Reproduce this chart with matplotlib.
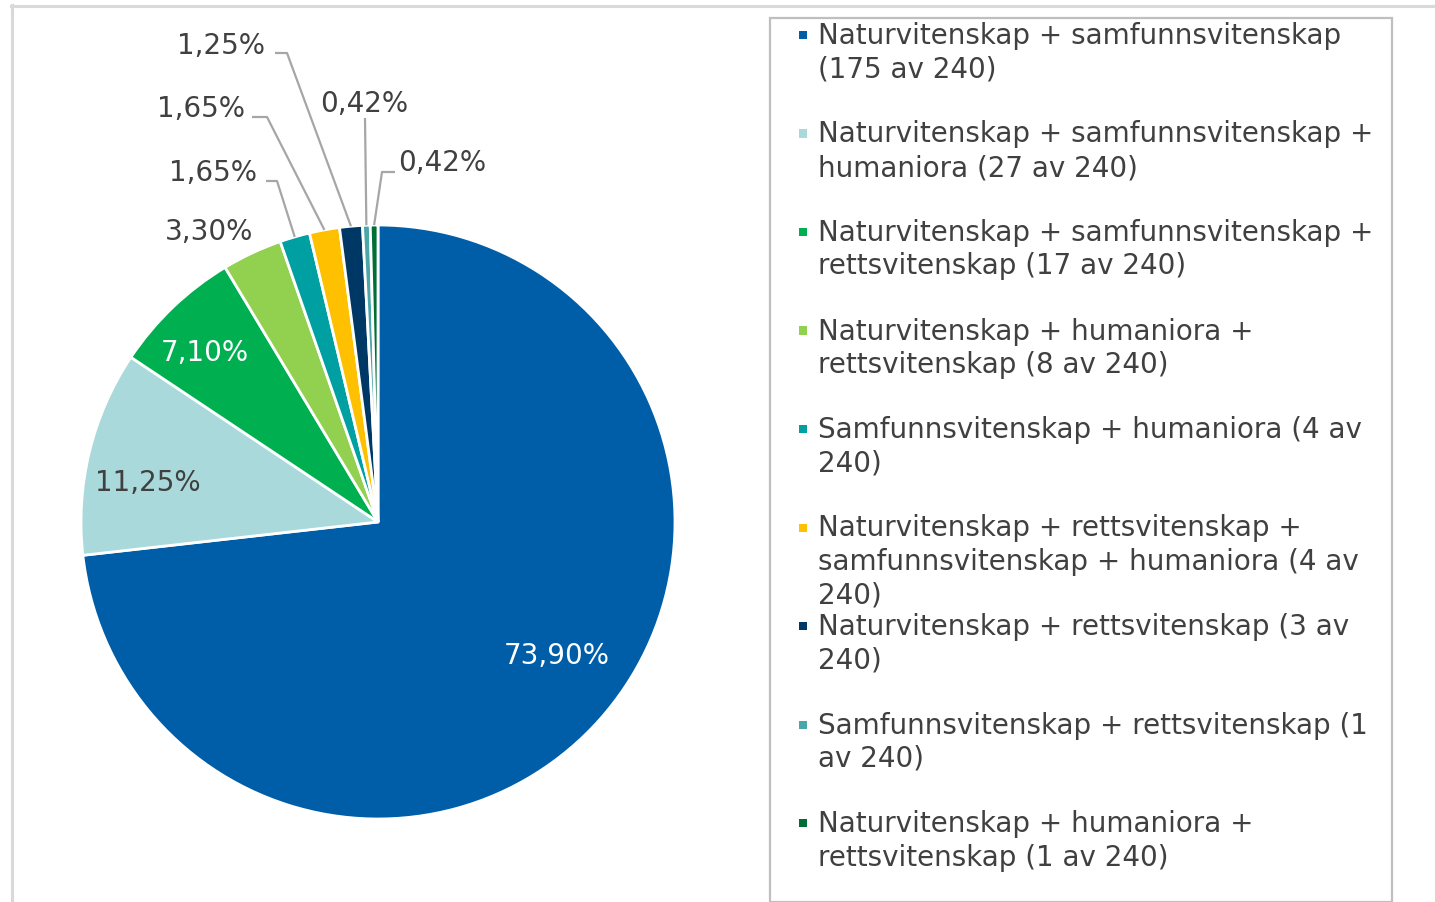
import matplotlib
matplotlib.use("Agg")
import matplotlib.pyplot as plt
from matplotlib.patches import Rectangle
from matplotlib.lines import Line2D
import numpy as np

plt.rcParams['font.family'] = ['DejaVu Sans']

# ---------------- data ----------------
categories = [
    "Naturvitenskap + samfunnsvitenskap\n(175 av 240)",
    "Naturvitenskap + samfunnsvitenskap +\nhumaniora (27 av 240)",
    "Naturvitenskap + samfunnsvitenskap +\nrettsvitenskap (17 av 240)",
    "Naturvitenskap + humaniora +\nrettsvitenskap (8 av 240)",
    "Samfunnsvitenskap + humaniora (4 av\n240)",
    "Naturvitenskap + rettsvitenskap +\nsamfunnsvitenskap + humaniora (4 av\n240)",
    "Naturvitenskap + rettsvitenskap (3 av\n240)",
    "Samfunnsvitenskap + rettsvitenskap (1\nav 240)",
    "Naturvitenskap + humaniora +\nrettsvitenskap (1 av 240)",
]
values = [73.90, 11.25, 7.10, 3.30, 1.65, 1.65, 1.25, 0.42, 0.42]
value_labels = ["73,90%", "11,25%", "7,10%", "3,30%", "1,65%", "1,65%", "1,25%", "0,42%", "0,42%"]

# ---------------- styles ----------------
colors = ['#005EA8', '#A9D9DB', '#00B050', '#92D050', '#00A0A2',
          '#FFC000', '#003865', '#4BA6A8', '#006F35']
text_dark = '#404040'
lead_col = '#A6A6A6'

W, H = 1435, 902
fig = plt.figure(figsize=(W / 100, H / 100), dpi=100)

# pie axes: centre (378,522) px, radius 297 px
cx, cy, R = 378, 522, 297
ax_l, ax_r, ax_t, ax_b = 12, 760, 5, 902
ax = fig.add_axes([ax_l / W, 1 - ax_b / H, (ax_r - ax_l) / W, (ax_b - ax_t) / H])

wedges, _ = ax.pie(values, colors=colors, startangle=90, counterclock=False,
                   radius=1.0, center=(0, 0),
                   wedgeprops=dict(edgecolor='white', linewidth=2.0))
ax.set_xlim((ax_l - cx) / R, (ax_r - cx) / R)
ax.set_ylim((cy - ax_b) / R, (cy - ax_t) / R)
ax.set_aspect('equal')
ax.axis('off')

def P(px, py):
    return ((px - cx) / R, (cy - py) / R)

fs = 20

# label placement: (text point px, ha, text colour, leader pts px or None)
label_layout = [
    ((557, 656), 'center', 'white', None),
    ((148, 483), 'center', text_dark, None),
    ((205, 353), 'center', 'white', None),
    ((253, 232), 'right', text_dark, None),
    ((257, 173), 'right', text_dark, [(266, 181), (277, 181)]),
    ((245, 109), 'right', text_dark, [(252, 117), (267, 117)]),
    ((265, 46), 'right', text_dark, [(275, 53), (287, 53)]),
    ((364, 104), 'center', text_dark, [(365, 118)]),
    ((398, 163), 'left', text_dark, [(395, 172), (382, 172)]),
]

for w, lab, (tp, ha, tc, lead) in zip(wedges, value_labels, label_layout):
    x, y = P(*tp)
    ax.text(x, y, lab, ha=ha, va='center', color=tc, fontsize=fs, clip_on=False)
    if lead:
        mid = np.deg2rad((w.theta1 + w.theta2) / 2)
        pts = [P(*p) for p in lead] + [(np.cos(mid), np.sin(mid))]
        xs, ys = zip(*pts)
        ax.add_line(Line2D(xs, ys, color=lead_col, lw=1.6, solid_capstyle='butt',
                           clip_on=False))

# ---------------- legend (manual, fixed slots) ----------------
leg_x0, leg_x1, leg_top = 770, 1392, 18
fig.add_artist(Rectangle((leg_x0 / W, 0), (leg_x1 - leg_x0) / W, 1 - leg_top / H,
                         transform=fig.transFigure, fill=False,
                         edgecolor='#BFBFBF', lw=1.6))
slot0, slot_step = 35, 98.5
for i, (cat, col) in enumerate(zip(categories, colors)):
    yc = slot0 + i * slot_step
    ms = 8
    fig.add_artist(Rectangle(((803 - ms / 2) / W, 1 - (yc + ms / 2) / H), ms / W, ms / H,
                             transform=fig.transFigure, facecolor=col, edgecolor='none'))
    fig.text(818 / W, 1 - (yc - 13) / H, cat, ha='left', va='top', fontsize=fs,
             color=text_dark, linespacing=1.25)

# ---------------- outer chart border ----------------
fig.add_artist(Line2D([11 / W, 1], [1 - 6 / H, 1 - 6 / H], transform=fig.transFigure,
                      color='#D9D9D9', lw=2.2))
fig.add_artist(Line2D([12 / W, 12 / W], [0, 1 - 5 / H], transform=fig.transFigure,
                      color='#D9D9D9', lw=2.2))

fig.savefig('out.png', dpi=100, facecolor='white')
